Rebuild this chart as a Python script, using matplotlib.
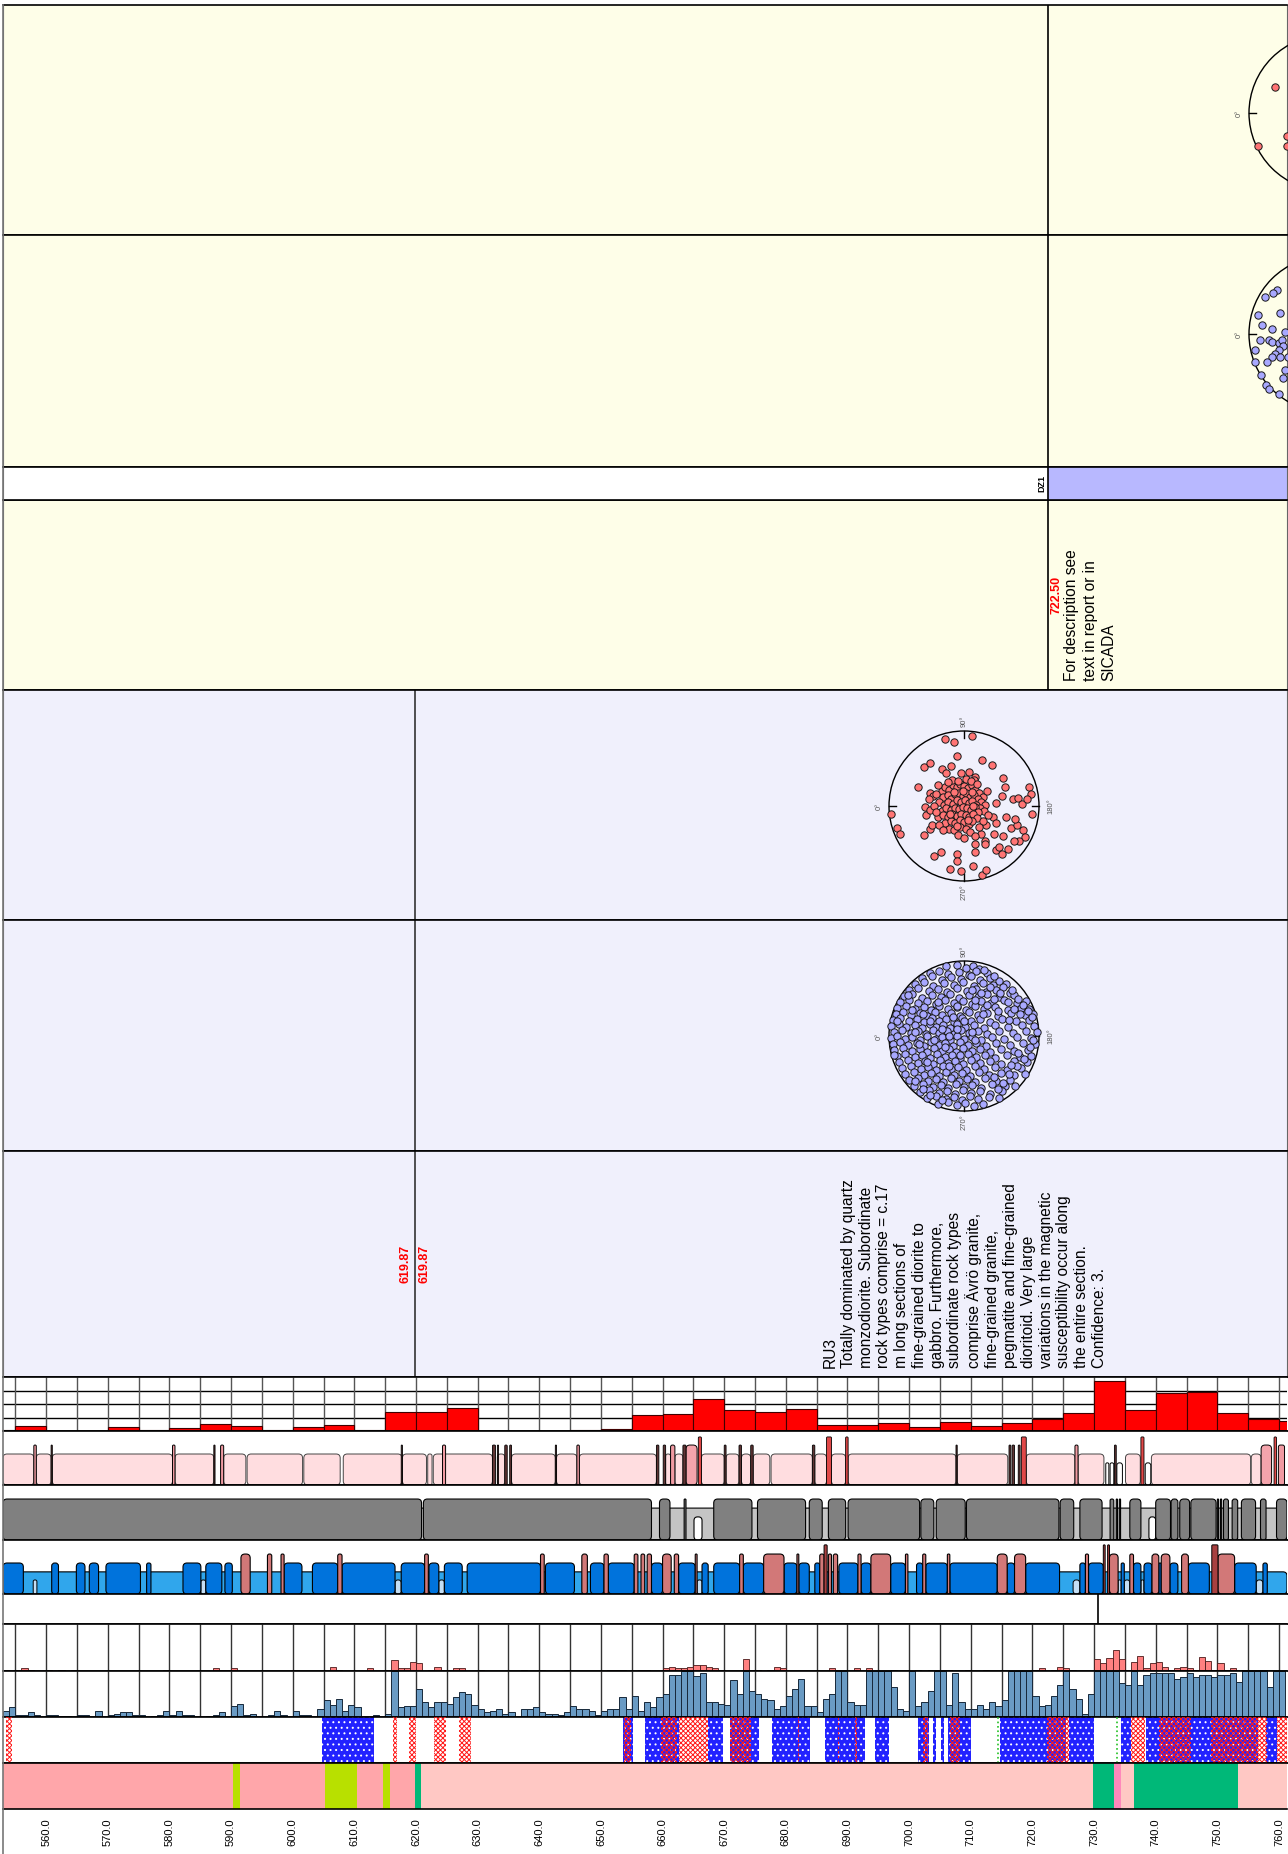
import matplotlib
matplotlib.use("Agg")
import numpy as np
import matplotlib.pyplot as plt
from matplotlib.patches import Circle, FancyBboxPatch

# --- fonts / hatch ---
plt.rcParams['font.family'] = ['Liberation Sans', 'DejaVu Sans']
plt.rcParams['hatch.linewidth'] = 0.7

# --- depth scale of the log ---
D_MIN, D_MAX = 553.0, 761.3
DEPTH_TICKS = list(range(560, 761, 10))

# --- red histogram (5 m bins) ---
RED_BINS = list(range(550, 761, 5))
RED_HIST = [0.3, 2.0, 0, 0, 1.4, 0.4, 1.0, 2.6, 1.7, 0.3, 1.4, 2.1, 0.4, 7.1, 6.9,
            8.6, 0, 0, 0, 0.4, 0.7, 5.9, 6.2, 11.7, 7.7, 6.9, 8.3, 2.1, 2.1, 2.9,
            1.4, 3.2, 1.7, 3.0, 4.3, 6.8, 18.4, 7.8, 14.0, 14.3, 6.8, 4.3, 3.7]

# --- 1 m histograms ---
M_BINS = list(range(553, 761))
BLUE_HIST = [
    1.7, 2.9, 0.6, 0.6, 1.4, 0.6, 0, 0.6, 0.6, 0.2,
    0.2, 0, 0.6, 0.6, 0, 1.9, 0, 0.6, 1.0, 1.4,
    1.4, 0.6, 0.6, 0, 0.2, 0.6, 1.9, 0.6, 1.7, 0.6,
    0.6, 0, 0, 0.2, 0.6, 1.4, 0, 3.3, 4.1, 0.6,
    1.0, 0, 0, 0.6, 1.9, 0.6, 0, 1.9, 0.6, 0.6,
    0, 2.4, 5.2, 3.7, 5.6, 1.9, 3.7, 2.9, 0, 0,
    0.6, 0, 1.0, 14, 2.9, 3.3, 3.3, 8.4, 4.7, 2.9,
    4.7, 4.7, 4.1, 6.1, 7.5, 6.9, 3.7, 2.4, 1.4, 1.9,
    2.4, 1.0, 1.4, 0, 2.4, 2.4, 2.9, 1.4, 1.0, 1.0,
    0.6, 1.4, 3.3, 2.4, 2.4, 1.9, 0.6, 1.9, 2.4, 2.4,
    6.1, 2.4, 6.5, 1.9, 4.7, 2.9, 6.1, 6.9, 12.9, 12.9,
    14, 14, 12.4, 13.4, 4.7, 4.7, 4.1, 3.7, 11.2, 6.9,
    14, 7.9, 6.9, 5.6, 5.2, 2.4, 3.3, 6.5, 8.4, 11.7,
    3.3, 3.3, 1.5, 5.6, 6.9, 14, 14, 4.7, 3.7, 3.7,
    14, 14, 14, 14, 9.0, 2.4, 1.9, 14, 3.3, 4.7,
    7.9, 14, 14, 3.7, 13.4, 4.7, 2.4, 2.4, 3.7, 2.4,
    4.7, 3.3, 5.2, 14, 14, 14, 14, 6.5, 3.3, 3.7,
    6.5, 9.7, 14, 8.4, 5.6, 1.0, 6.9, 14, 14, 14,
    14, 10.2, 9.7, 14, 9.7, 12.9, 13.4, 13.4, 13.4, 13.4,
    11.7, 12.2, 13.4, 12.2, 12.9, 12.7, 12.2, 12.7, 12.9, 13.4,
    10.7, 14, 14, 14, 14, 9.0, 14, 14]
PINK_HIST = [
    0.4, 0, 0.4, 0.8, 0.4, 0, 0, 0.4, 0, 0.4,
    0, 0.4, 0, 0, 0, 0, 0, 0, 0, 0,
    0, 0, 0, 0, 0, 0, 0.4, 0, 0, 0,
    0, 0, 0, 0, 0.8, 0.4, 0.4, 0.8, 0, 0,
    0, 0, 0, 0, 0, 0, 0, 0.4, 0, 0,
    0, 0, 0, 1.2, 0.4, 0, 0, 0, 0, 0.8,
    0, 0, 0.4, 3.2, 0.8, 0.8, 2.7, 2.2, 0, 0.4,
    1.2, 0.4, 0.4, 0.8, 0.8, 0, 0, 0.4, 0, 0,
    0, 0, 0, 0, 0.4, 0, 0, 0.4, 0, 0,
    0, 0.4, 0, 0, 0, 0, 0, 0, 0.4, 0.4,
    0.4, 0, 0, 0.4, 0.4, 0, 0, 0.8, 1.2, 0.8,
    0.8, 1.2, 1.8, 1.8, 1.2, 0.8, 0.4, 0, 0, 0,
    3.6, 0.4, 0.4, 0, 0.4, 1.2, 0.8, 0, 0, 0,
    0, 0, 0, 0, 0.8, 0.4, 0.4, 0, 0.8, 0,
    0.8, 0, 0, 0, 0.4, 0, 0, 0, 0.4, 0,
    0.4, 0.4, 0.4, 0.4, 0, 0, 0.4, 0, 0, 0.4,
    0, 0, 0, 0, 0, 0, 0, 0.4, 0.8, 0,
    0.4, 1.2, 1.0, 0.4, 0, 0, 0, 3.6, 2.2, 3.8,
    6.0, 3.6, 0.4, 2.6, 4.4, 0.8, 2.2, 2.6, 1.2, 0.4,
    0.8, 1.2, 0.8, 0.4, 4.0, 3.0, 0.4, 2.2, 0.4, 0.8,
    0, 0.4, 0.4, 0.4, 0.4, 0, 0, 0]

# --- pink band track ---
PINK_SEGS = [(553.0, 558.0), (558.4, 560.8), (561.0, 580.5), (580.9, 587.2), (588.8, 592.4),
             (592.6, 601.6), (601.8, 607.7), (608.2, 617.7), (617.8, 621.7), (621.9, 622.6),
             (622.8, 632.4), (633.2, 634.4), (635.5, 642.6), (642.8, 646.1), (646.5, 659.0),
             (660.5, 661.3), (662.0, 663.3), (666.3, 670.0), (670.3, 672.4), (672.8, 674.3),
             (674.7, 677.4), (677.6, 684.3), (684.7, 686.6), (687.4, 689.7), (690.1, 707.6),
             (707.8, 716.0), (719.0, 726.9), (727.4, 731.6), (735.1, 737.5), (739.3, 755.4),
             (755.5, 757.1)]
PINK_SPIKES = [(558.0, 558.4), (580.5, 580.9), (588.3, 588.8), (624.3, 624.8), (646.1, 646.5),
               (661.3, 662.0), (726.9, 727.4), (759.9, 760.9)]
PINK_DARK = [(560.8, 561.0), (587.2, 587.4), (617.6, 617.8), (632.4, 632.9), (633.2, 633.4),
             (634.4, 634.8), (635.2, 635.5), (642.6, 642.8), (659.0, 659.4), (660.1, 660.5),
             (663.3, 663.8), (670.0, 670.3), (672.4, 672.8), (674.3, 674.7), (684.3, 684.7),
             (707.6, 707.8), (716.2, 716.5), (716.7, 717.1), (717.7, 718.0), (733.3, 733.6)]
PINK_BROAD = [(663.8, 665.6), (757.1, 758.8)]
PINK_TALL = [(665.8, 666.3), (686.6, 687.4), (689.7, 690.1), (718.2, 719.0), (737.6, 738.1),
             (759.2, 759.6)]
PINK_WHITE = [(731.9, 732.4), (732.6, 733.2), (733.7, 734.6), (738.3, 739.2)]

# --- gray track ---
GRAY_DARK = [(553.0, 620.9), (621.2, 658.2), (659.5, 661.2), (663.5, 663.8), (668.3, 674.5),
             (675.4, 683.2), (683.8, 685.9), (686.9, 689.7), (690.1, 701.7), (701.9, 704.0),
             (704.4, 709.1), (709.3, 724.3), (724.5, 726.7), (727.7, 731.3), (732.6, 733.2),
             (733.6, 733.8), (734.1, 734.3), (735.8, 737.6), (740.0, 742.4), (742.5, 743.6),
             (743.9, 745.5), (745.7, 749.8), (750.0, 750.2), (750.5, 750.7), (751.0, 751.8),
             (752.4, 753.3), (753.9, 756.2), (757.0, 757.9), (759.6, 761.3)]
GRAY_WHITE = [(665.1, 666.4), (738.9, 740.0)]

# --- blue track ---
BLUE_DARK = [(553.0, 556.3), (560.9, 562.0), (564.9, 566.3), (567.0, 568.5), (569.7, 575.3),
             (576.3, 577.0), (582.2, 585.1), (585.9, 588.5), (589.0, 590.2), (598.6, 601.5),
             (603.2, 607.3), (608.0, 616.6), (617.6, 621.4), (622.1, 623.7), (624.6, 627.5),
             (628.3, 640.2), (641.0, 645.7), (648.3, 650.5), (651.2, 655.4), (658.2, 660.0),
             (662.6, 665.3), (666.4, 667.4), (668.3, 672.5), (673.1, 676.4), (679.7, 681.8),
             (682.1, 683.8), (684.7, 685.5), (688.6, 691.7), (692.2, 693.8), (697.0, 699.4),
             (701.2, 702.2), (702.7, 706.2), (706.6, 714.3), (715.9, 717.1), (718.9, 724.4),
             (727.7, 728.6), (729.1, 731.5), (734.4, 734.9), (736.4, 737.6), (738.1, 739.4),
             (740.5, 740.9), (742.3, 743.6), (745.3, 748.7), (752.8, 756.3), (757.4, 758.1)]
BLUE_PALE = [(557.9, 558.5), (585.1, 585.9), (616.6, 617.6), (623.7, 624.6), (665.6, 666.4),
             (726.6, 727.7), (733.9, 734.4), (734.9, 735.8), (737.6, 738.1), (756.3, 757.4)]
BLUE_ROSE = [(591.6, 593.1), (595.9, 596.6), (598.1, 598.6), (607.3, 608.0), (621.4, 622.0),
             (640.2, 640.8), (646.9, 647.8), (650.5, 651.2), (655.4, 656.0), (656.5, 657.1),
             (657.5, 658.2), (660.0, 661.4), (661.9, 662.6), (665.3, 665.6), (672.5, 673.1),
             (676.4, 679.7), (681.8, 682.1), (685.5, 686.2), (686.9, 687.4), (687.7, 688.4),
             (691.7, 692.2), (693.8, 697.0), (699.4, 699.8), (702.2, 702.7), (706.2, 706.6),
             (714.3, 715.9), (717.1, 718.9), (728.6, 729.1), (732.5, 733.9), (735.8, 736.4),
             (739.4, 740.5), (740.9, 742.3), (744.2, 745.3), (750.1, 752.8)]
BLUE_BROWN = [(686.2, 686.7), (731.5, 731.8), (732.2, 732.5), (749.1, 750.1)]

BOUNDARY_MARK = 730.7

# --- hatch track ---
HATCH_BLUE = [(604.7, 613.2), (653.6, 655.2), (657.2, 662.7), (667.3, 669.8), (670.9, 675.6),
              (677.8, 683.9), (686.3, 692.8), (694.5, 696.7), (701.4, 703.3), (703.9, 704.4),
              (705.1, 705.7), (706.3, 710.0), (714.7, 725.5), (726.0, 730.0), (734.4, 736.0),
              (738.5, 756.6), (757.9, 759.6)]
HATCH_RED = [(553.5, 554.4), (616.3, 616.9), (618.8, 620.0), (622.9, 624.8), (626.9, 628.9),
             (653.8, 654.8), (659.7, 662.4), (662.7, 667.3), (671.0, 674.3), (681.9, 682.2),
             (688.4, 688.7), (691.2, 691.5), (702.2, 703.1), (706.6, 708.2), (722.3, 726.0),
             (736.0, 738.2), (740.6, 745.8), (749.0, 758.0), (759.6, 761.3)]
HATCH_GREEN = [714.4, 733.8]

# --- rock type track ---
ROCK = [(553.0, 590.3, '#ffa6aa'), (590.3, 591.5, '#b8e000'), (591.5, 605.3, '#ffa6aa'),
        (605.3, 610.4, '#b8e000'), (610.4, 614.6, '#ffa6aa'), (614.6, 615.8, '#b8e000'),
        (615.8, 619.8, '#ffa6aa'), (619.8, 620.8, '#00b878'), (620.8, 729.9, '#ffc8c4'),
        (729.9, 733.3, '#00b878'), (733.3, 734.3, '#ff88bb'), (734.3, 736.4, '#ffc8c4'),
        (736.4, 753.4, '#00b878'), (753.4, 761.3, '#ffc8c4')]

# --- units ---
RU_BOUNDARY = 619.87
DZ_BOUNDARY = 722.50
RU_TEXT = ("RU3\nTotally dominated by quartz\nmonzodiorite. Subordinate\nrock types comprise = c.17\n"
           "m long sections of\nfine-grained diorite to\ngabbro. Furthermore,\nsubordinate rock types\n"
           "comprise Ävrö granite,\nfine-grained granite,\npegmatite and fine-grained\ndioritoid. Very large\n"
           "variations in the magnetic\nsusceptibility occur along\nthe entire section.\nConfidence: 3.")
DZ_TEXT = "For description see\ntext in report or in\nSICADA"

# --- stereonet poles (projected, unit circle) ---
RU_RED = [(-0.26, 0.90), (-0.14, 0.85), (0.10, 0.94), (-0.09, 0.67), (0.24, 0.61), (0.37, 0.55),
          (-0.53, 0.52), (-0.46, 0.57), (-0.18, 0.53), (-0.30, 0.50), (-0.24, 0.44), (-0.04, 0.44),
          (0.07, 0.45), (0.14, 0.39), (0.13, 0.35), (0.52, 0.38), (0.54, 0.26), (-0.62, 0.26),
          (-0.45, 0.17), (-0.41, 0.14), (-0.47, 0.10), (-0.52, -0.01), (-0.51, -0.12), (-0.45, -0.05),
          (-0.98, -0.11), (-0.90, -0.29), (-0.86, -0.37), (-0.53, -0.39), (-0.45, -0.30), (-0.43, -0.25),
          (-0.40, -0.67), (-0.31, -0.61), (-0.10, -0.64), (-0.09, -0.73), (-0.19, -0.84), (-0.04, -0.86),
          (0.12, -0.80), (0.24, -0.92), (0.29, -0.85), (0.14, -0.51), (0.15, -0.61), (0.28, -0.47),
          (0.28, -0.51), (0.23, -0.37), (0.40, -0.37), (0.52, -0.40), (0.62, -0.29), (0.70, -0.25),
          (0.78, -0.32), (0.81, -0.41), (0.73, -0.47), (0.67, -0.47), (0.43, -0.59), (0.47, -0.54),
          (0.51, -0.64), (0.58, -0.57), (0.68, -0.17), (0.56, -0.15), (0.65, 0.10), (0.72, 0.11),
          (0.77, 0.03), (0.86, 0.25), (0.89, 0.16), (0.84, 0.09), (0.90, -0.10), (0.50, 0.13),
          (0.43, 0.04), (0.38, -0.14), (0.43, -0.23), (0.29, -0.25),
          (-0.30, 0.20), (-0.25, 0.25), (-0.20, 0.22), (-0.15, 0.28), (-0.10, 0.25), (-0.05, 0.30),
          (0.00, 0.27), (0.05, 0.24), (0.10, 0.28), (0.15, 0.22), (0.20, 0.18), (0.25, 0.12),
          (-0.28, 0.12), (-0.22, 0.15), (-0.17, 0.10), (-0.12, 0.16), (-0.07, 0.18), (-0.02, 0.14),
          (0.03, 0.17), (0.08, 0.12), (0.13, 0.15), (0.18, 0.10), (0.23, 0.05), (0.28, 0.02),
          (-0.33, 0.05), (-0.27, 0.02), (-0.21, 0.06), (-0.15, 0.03), (-0.10, 0.08), (-0.04, 0.05),
          (0.01, 0.08), (0.06, 0.04), (0.11, 0.07), (0.16, 0.02), (0.21, -0.02), (0.26, -0.06),
          (-0.30, -0.06), (-0.24, -0.03), (-0.18, -0.05), (-0.12, -0.02), (-0.07, -0.04), (-0.01, -0.01),
          (0.04, -0.03), (0.09, -0.05), (0.14, -0.01), (0.19, -0.08), (-0.35, -0.15), (-0.28, -0.12),
          (-0.22, -0.14), (-0.16, -0.11), (-0.10, -0.13), (-0.04, -0.10), (0.02, -0.12), (0.07, -0.14),
          (0.12, -0.10), (0.17, -0.16), (-0.25, -0.22), (-0.18, -0.20), (-0.12, -0.23), (-0.06, -0.19),
          (0.00, -0.21), (0.06, -0.24), (0.11, -0.20), (-0.20, -0.30), (-0.13, -0.32), (-0.06, -0.28),
          (0.02, -0.31), (0.08, -0.34), (-0.08, -0.38), (0.00, -0.42), (-0.16, 0.35), (-0.08, 0.34),
          (0.02, 0.36), (0.09, 0.33), (-0.22, 0.32), (0.17, 0.30), (-0.35, 0.28), (-0.38, 0.16),
          (-0.40, 0.00), (-0.38, -0.08), (-0.33, -0.25), (-0.28, -0.32), (0.30, 0.20), (0.32, -0.12),
          (0.25, -0.20), (0.20, -0.28), (0.15, -0.40), (-0.02, 0.20), (-0.14, 0.19), (0.10, 0.19),
          (0.12, 0.00), (-0.19, -0.10), (0.05, -0.18), (-0.09, -0.26)]

RU_BLUE = [(-0.24, 0.93), (-0.10, 0.95), (0.03, 0.91), (0.12, 0.94), (0.20, 0.90),
           (-0.46, 0.84), (-0.34, 0.87), (-0.21, 0.83), (-0.07, 0.86), (0.06, 0.82), (0.16, 0.87), (0.31, 0.84),
           (-0.56, 0.77), (-0.43, 0.80), (-0.29, 0.75), (-0.17, 0.79), (-0.04, 0.76), (0.09, 0.80), (0.21, 0.75),
           (0.34, 0.78), (0.46, 0.74),
           (-0.66, 0.69), (-0.53, 0.72), (-0.41, 0.67), (-0.27, 0.71), (-0.14, 0.68), (-0.01, 0.72), (0.13, 0.67),
           (0.25, 0.71), (0.39, 0.68), (0.56, 0.70),
           (-0.73, 0.61), (-0.61, 0.64), (-0.47, 0.60), (-0.35, 0.63), (-0.23, 0.59), (-0.09, 0.64), (0.04, 0.60),
           (0.16, 0.63), (0.29, 0.59), (0.43, 0.62), (0.61, 0.58),
           (-0.80, 0.53), (-0.69, 0.56), (-0.56, 0.51), (-0.43, 0.55), (-0.31, 0.52), (-0.19, 0.56), (-0.07, 0.51),
           (0.06, 0.55), (0.19, 0.52), (0.31, 0.56), (0.47, 0.52), (0.67, 0.55),
           (-0.85, 0.45), (-0.73, 0.48), (-0.61, 0.44), (-0.49, 0.47), (-0.37, 0.43), (-0.26, 0.48), (-0.13, 0.44),
           (-0.01, 0.47), (0.11, 0.43), (0.23, 0.47), (0.36, 0.44), (0.53, 0.48), (0.71, 0.44), (0.83, 0.47),
           (-0.89, 0.37), (-0.77, 0.40), (-0.65, 0.36), (-0.54, 0.39), (-0.44, 0.35), (-0.33, 0.40), (-0.21, 0.36),
           (-0.09, 0.39), (0.03, 0.35), (0.15, 0.40), (0.27, 0.36), (0.41, 0.39), (0.59, 0.35), (0.76, 0.38),
           (0.87, 0.36),
           (-0.91, 0.29), (-0.81, 0.32), (-0.71, 0.28), (-0.59, 0.31), (-0.49, 0.27), (-0.39, 0.32), (-0.29, 0.28),
           (-0.18, 0.31), (-0.06, 0.27), (0.07, 0.32), (0.19, 0.28), (0.31, 0.31), (0.45, 0.27), (0.63, 0.31),
           (0.81, 0.28), (0.92, 0.30),
           (-0.95, 0.21), (-0.85, 0.24), (-0.73, 0.20), (-0.63, 0.23), (-0.53, 0.19), (-0.43, 0.24), (-0.33, 0.20),
           (-0.24, 0.23), (-0.14, 0.19), (-0.03, 0.24), (0.09, 0.20), (0.21, 0.23), (0.35, 0.19), (0.51, 0.23),
           (0.69, 0.20), (0.86, 0.22),
           (-0.97, 0.13), (-0.87, 0.16), (-0.77, 0.12), (-0.66, 0.15), (-0.56, 0.11), (-0.46, 0.16), (-0.37, 0.12),
           (-0.28, 0.15), (-0.19, 0.11), (-0.09, 0.16), (0.01, 0.12), (0.13, 0.15), (0.26, 0.11), (0.41, 0.15),
           (0.59, 0.12), (0.77, 0.15), (0.93, 0.13),
           (-0.94, 0.05), (-0.83, 0.08), (-0.71, 0.04), (-0.61, 0.07), (-0.51, 0.03), (-0.42, 0.08), (-0.33, 0.04),
           (-0.23, 0.07), (-0.13, 0.03), (-0.04, 0.08), (0.07, 0.04), (0.18, 0.07), (0.31, 0.03), (0.46, 0.07),
           (0.65, 0.04), (0.83, 0.07), (0.97, 0.05),
           (-0.98, -0.03), (-0.89, 0.00), (-0.79, -0.04), (-0.69, -0.01), (-0.59, -0.05), (-0.49, 0.00),
           (-0.38, -0.04), (-0.29, -0.01), (-0.19, -0.05), (-0.10, 0.00), (0.00, -0.04), (0.11, -0.01),
           (0.23, -0.05), (0.37, -0.01), (0.53, -0.04), (0.71, -0.01), (0.89, -0.03),
           (-0.95, -0.11), (-0.85, -0.08), (-0.75, -0.12), (-0.63, -0.09), (-0.53, -0.13), (-0.44, -0.08),
           (-0.34, -0.12), (-0.25, -0.09), (-0.15, -0.13), (-0.05, -0.08), (0.05, -0.12), (0.16, -0.09),
           (0.29, -0.13), (0.43, -0.09), (0.61, -0.12), (0.79, -0.09), (0.94, -0.11),
           (-0.93, -0.19), (-0.81, -0.16), (-0.69, -0.20), (-0.59, -0.17), (-0.49, -0.21), (-0.40, -0.16),
           (-0.30, -0.20), (-0.20, -0.17), (-0.11, -0.21), (-0.01, -0.16), (0.10, -0.20), (0.21, -0.17),
           (0.34, -0.21), (0.49, -0.17), (0.67, -0.20), (0.85, -0.18),
           (-0.90, -0.27), (-0.79, -0.24), (-0.66, -0.28), (-0.56, -0.25), (-0.46, -0.29), (-0.36, -0.24),
           (-0.26, -0.28), (-0.16, -0.25), (-0.06, -0.29), (0.05, -0.24), (0.16, -0.28), (0.28, -0.25),
           (0.41, -0.29), (0.57, -0.25), (0.75, -0.28), (0.89, -0.26),
           (-0.87, -0.35), (-0.75, -0.32), (-0.62, -0.36), (-0.52, -0.33), (-0.42, -0.37), (-0.32, -0.32),
           (-0.22, -0.36), (-0.12, -0.33), (-0.02, -0.37), (0.09, -0.32), (0.21, -0.36), (0.34, -0.33),
           (0.49, -0.37), (0.67, -0.33), (0.84, -0.35),
           (-0.83, -0.43), (-0.71, -0.40), (-0.58, -0.44), (-0.48, -0.41), (-0.38, -0.45), (-0.28, -0.40),
           (-0.18, -0.44), (-0.08, -0.41), (0.03, -0.45), (0.14, -0.40), (0.27, -0.44), (0.41, -0.41),
           (0.57, -0.45), (0.76, -0.42),
           (-0.79, -0.51), (-0.67, -0.48), (-0.54, -0.52), (-0.44, -0.49), (-0.34, -0.53), (-0.24, -0.48),
           (-0.13, -0.52), (-0.03, -0.49), (0.08, -0.53), (0.20, -0.48), (0.33, -0.52), (0.49, -0.49),
           (0.67, -0.52), (0.81, -0.50),
           (-0.73, -0.59), (-0.61, -0.56), (-0.48, -0.60), (-0.38, -0.57), (-0.28, -0.61), (-0.17, -0.56),
           (-0.07, -0.60), (0.04, -0.57), (0.15, -0.61), (0.28, -0.56), (0.43, -0.60), (0.61, -0.58),
           (-0.67, -0.67), (-0.55, -0.64), (-0.42, -0.68), (-0.31, -0.65), (-0.21, -0.69), (-0.11, -0.64),
           (0.00, -0.68), (0.11, -0.65), (0.23, -0.69), (0.37, -0.64), (0.55, -0.67), (0.68, -0.66),
           (-0.59, -0.75), (-0.47, -0.72), (-0.34, -0.76), (-0.23, -0.73), (-0.12, -0.77), (-0.02, -0.72),
           (0.09, -0.76), (0.21, -0.73), (0.35, -0.77), (0.51, -0.73),
           (-0.49, -0.83), (-0.37, -0.80), (-0.24, -0.84), (-0.13, -0.81), (-0.03, -0.85), (0.08, -0.80),
           (0.19, -0.84), (0.33, -0.81), (0.46, -0.83),
           (-0.35, -0.91), (-0.21, -0.88), (-0.09, -0.92), (0.01, -0.89), (0.13, -0.93), (0.25, -0.90),
           (-0.30, 0.10), (-0.20, 0.00), (-0.10, 0.10), (0.00, 0.20), (-0.40, -0.05), (-0.25, -0.15),
           (0.10, 0.05), (-0.15, 0.25), (-0.45, 0.20), (-0.35, 0.45), (-0.55, 0.30), (-0.60, -0.10),
           (-0.05, -0.25), (0.15, -0.05), (-0.50, -0.35), (-0.20, -0.40), (0.25, 0.30), (-0.65, 0.05),
           (-0.70, 0.35), (-0.10, 0.40),
           (0.27, 0.88), (0.40, 0.80), (0.52, 0.66), (0.64, 0.62), (0.72, 0.50), (0.78, 0.42),
           (0.85, 0.33), (0.90, 0.25), (0.35, 0.65), (0.22, 0.58), (0.10, 0.62), (0.48, 0.57),
           (0.58, 0.45), (0.66, 0.36), (0.74, 0.30), (0.60, 0.22), (0.45, 0.33), (0.30, 0.42),
           (0.40, 0.50), (0.15, 0.48), (0.70, -0.40), (0.60, -0.50), (0.52, -0.62), (0.45, -0.70),
           (0.40, -0.55), (0.62, -0.38), (0.72, -0.22), (0.80, -0.30), (0.88, -0.15), (0.92, -0.05),
           (-0.90, 0.20), (-0.93, -0.25), (-0.75, 0.55), (-0.65, -0.60), (-0.55, -0.70), (-0.45, -0.78),
           (-0.30, -0.85)]

DZ_RED = [(-0.67, 0.33), (-0.88, -0.42), (-0.51, -0.29), (-0.51, -0.42), (-0.30, 0.10), (-0.20, -0.30)]
DZ_BLUE = [(-0.64, 0.57), (-0.69, 0.53), (-0.79, 0.47), (-0.88, 0.25), (-0.60, 0.27), (-0.83, 0.12),
           (-0.70, 0.06), (-0.54, 0.02), (-0.86, -0.08), (-0.75, -0.08), (-0.70, -0.10), (-0.62, -0.12),
           (-0.58, -0.08), (-0.56, -0.16), (-0.62, -0.21), (-0.67, -0.25), (-0.71, -0.29), (-0.77, -0.36),
           (-0.60, -0.29), (-0.92, -0.20), (-0.92, -0.36), (-0.84, -0.53), (-0.78, -0.65), (-0.75, -0.71),
           (-0.62, -0.77), (-0.54, -0.46), (-0.56, -0.57), (-0.30, 0.10), (0.00, 0.00), (-0.40, -0.20),
           (-0.45, 0.05), (-0.50, -0.30)]

# --- colours ---
YELLOW = '#fefee8'
LAVENDER = '#f0f0fc'

W, H = 1288, 1854
XL, XR = 3, 1287
fig = plt.figure(figsize=(W / 100, H / 100), dpi=100)
fig.patch.set_facecolor('white')


def px_axes(x0, y0, x1, y1, z=1):
    return fig.add_axes([x0 / W, 1 - y1 / H, (x1 - x0) / W, (y1 - y0) / H], zorder=z)


def track(y0, y1, ylim=(0, 1), face='white', sides=False):
    ax = px_axes(XL, y0, XR, y1)
    ax.set_xlim(D_MIN, D_MAX)
    ax.set_ylim(*ylim)
    ax.set_facecolor(face)
    ax.set_xticks([])
    ax.set_yticks([])
    for s in ['left', 'right']:
        ax.spines[s].set_visible(sides)
        ax.spines[s].set_color('#666666')
    for s in ['top', 'bottom']:
        ax.spines[s].set_linewidth(1.2)
    return ax


def rbox(ax, a, b, top, color, px_y, bottom=0.0, ec='black', lw=0.8, z=2, r=4.0):
    # rounded box in depth / track units, r = corner radius in pixels
    px_x = 6.165
    rs = min(r / px_x, 0.45 * (b - a))
    box = FancyBboxPatch((a, bottom), b - a, top - bottom,
                         boxstyle=f"round,pad=0,rounding_size={rs}",
                         mutation_aspect=px_x / px_y,
                         fc=color, ec=ec, lw=lw, zorder=z)
    ax.add_patch(box)


def txt(x, y, s, **kw):
    fig.text(x / W, 1 - y / H, s, **kw)


# ---------------- upper panels: deformation zones ----------------
for y0, y1 in [(5, 235), (235, 467), (500, 690)]:
    ax = track(y0, y1, face=YELLOW, sides=True)
    ax.axvline(DZ_BOUNDARY, color='black', lw=1.2)

ax_dz = track(467, 500, sides=True)
ax_dz.axvspan(DZ_BOUNDARY, D_MAX, color='#b8b8ff', lw=0)
ax_dz.axvline(DZ_BOUNDARY, color='black', lw=1.2)
txt(1042, 483, 'DZ1', rotation=90, ha='center', va='center', fontsize=6.5, fontweight='bold')

txt(1057, 595, '722.50', rotation=90, ha='center', va='center', fontsize=9,
    fontweight='bold', color='red')
txt(1064, 681, DZ_TEXT, rotation=90, rotation_mode='anchor', ha='left', va='top',
    fontsize=11.2, linespacing=1.32)

# ---------------- rock unit panels ----------------
for y0, y1 in [(690, 920), (920, 1151), (1151, 1377)]:
    ax = track(y0, y1, face=LAVENDER, sides=True)
    ax.axvline(RU_BOUNDARY, color='#333333', lw=1.2)

txt(405, 1264, '619.87', rotation=90, ha='center', va='center', fontsize=9,
    fontweight='bold', color='red')
txt(425, 1264, '619.87', rotation=90, ha='center', va='center', fontsize=9,
    fontweight='bold', color='red')
txt(823, 1368, RU_TEXT, rotation=90, rotation_mode='anchor', ha='left', va='top',
    fontsize=11.2, linespacing=1.23)


def stereonet(cx, cy, r, pts, face):
    m = 24
    ax = px_axes(cx - r - m, cy - r - m, cx + r + m, cy + r + m, z=5)
    lim = 1 + m / r
    ax.set_xlim(-lim, lim)
    ax.set_ylim(-lim, lim)
    ax.set_axis_off()
    ax.add_patch(Circle((0, 0), 1, fill=False, ec='black', lw=1.0, zorder=2))
    t = 7 / r
    for dx, dy in [(-1, 0), (1, 0), (0, 1), (0, -1)]:
        ax.plot([dx, dx * (1 - t)], [dy, dy * (1 - t)], color='black', lw=1.0, zorder=2)
    g = 1 + 10 / r
    lab = dict(rotation=90, ha='center', va='center', fontsize=5.5, color='#555555')
    # only labels that land inside the picture
    for lx, ly, s in [(-g, 0, '0°'), (0, g, '90°'), (g + 0.02, 0, '180°'), (0, -g - 0.02, '270°')]:
        if cx + lx * r < W - 8:
            ax.text(lx, ly, s, **lab)
    xs, ys = zip(*pts)
    ax.scatter(xs, ys, s=28, c=face, edgecolors='#1a1a1a', linewidths=0.7, zorder=3)


stereonet(964, 806, 75, RU_RED, '#ff7474')
stereonet(964, 1036, 75, RU_BLUE, '#a8a8ff')
stereonet(1327, 113, 78, DZ_RED, '#ff7474')
stereonet(1327, 334, 78, DZ_BLUE, '#a8a8ff')

# ---------------- red histogram ----------------
ax = track(1377, 1431, ylim=(0, 20))
for yv in [5, 10, 15]:
    ax.axhline(yv, color='black', lw=1.0, zorder=1)
ax.vlines(np.arange(555, 761, 5), 0, 20, color='#555555', lw=1.0, zorder=1)
ax.bar(RED_BINS, RED_HIST, width=5, align='edge', color='#ff0000', edgecolor='#400000',
       lw=0.8, zorder=2)

# ---------------- pink band ----------------
ax = track(1431, 1485)
PY = 54.0
for a, b in PINK_SEGS:
    rbox(ax, a, b, 0.574, '#ffdde0', PY, ec='#444444', lw=0.7)
for a, b in PINK_WHITE:
    rbox(ax, a, b, 0.41, 'white', PY, lw=0.7, z=3)
for a, b in PINK_BROAD:
    rbox(ax, a, b, 0.74, '#f4a4ac', PY, lw=0.7, z=3)
for a, b in PINK_SPIKES:
    rbox(ax, a, b, 0.74, '#f09aa2', PY, lw=0.7, z=4, r=2)
for a, b in PINK_DARK:
    rbox(ax, a, b, 0.74, '#603434', PY, lw=0.6, z=4, r=1)
for a, b in PINK_TALL:
    rbox(ax, a, b, 0.89, '#e04848', PY, lw=0.6, z=4, r=1)

# ---------------- gray band ----------------
ax = track(1485, 1540)
PY = 55.0
rbox(ax, D_MIN, D_MAX, 0.58, '#c4c4c4', PY, lw=0.8)
for a, b in GRAY_WHITE:
    rbox(ax, a, b, 0.42, 'white', PY, lw=0.8, z=3)
for a, b in GRAY_DARK:
    rbox(ax, a, b, 0.745, '#808080', PY, lw=0.8, z=3)

# ---------------- blue band ----------------
ax = track(1540, 1594)
PY = 54.0
rbox(ax, D_MIN, D_MAX, 0.41, '#30a6ec', PY, lw=0.8)
for a, b in BLUE_PALE:
    rbox(ax, a, b, 0.26, '#c4def4', PY, lw=0.7, z=3)
for a, b in BLUE_DARK:
    rbox(ax, a, b, 0.574, '#0073dc', PY, lw=0.8, z=3)
for a, b in BLUE_ROSE:
    rbox(ax, a, b, 0.74, '#d27878', PY, lw=0.8, z=4)
for a, b in BLUE_BROWN:
    rbox(ax, a, b, 0.91, '#a84040', PY, lw=0.7, z=5, r=1)

# ---------------- boundary marker ----------------
ax = track(1594, 1624)
ax.axvline(BOUNDARY_MARK, color='black', lw=1.2)

# ---------------- 1 m histograms ----------------
ax = track(1624, 1671, ylim=(0, 13.7))
ax.vlines(np.arange(555, 761, 5), 0, 13.7, color='#333333', lw=1.0, zorder=1)
ax.bar(M_BINS, PINK_HIST, width=1, align='edge', color='#ff8080', edgecolor='#4a1a1a',
       lw=0.6, zorder=2)

ax = track(1671, 1717, ylim=(0, 14))
ax.vlines(np.arange(555, 761, 5), 0, 14, color='#333333', lw=1.0, zorder=1)
ax.bar(M_BINS, BLUE_HIST, width=1, align='edge', color='#6a9bc4', edgecolor='#17283a',
       lw=0.7, zorder=2)

# ---------------- hatch band ----------------
ax = track(1717, 1763)
for a, b in HATCH_BLUE:
    ax.axvspan(a, b, facecolor='#2222ff', edgecolor='white', hatch='...', lw=0, zorder=2)
for a, b in HATCH_RED:
    ax.axvspan(a, b, facecolor='none', edgecolor='#ff1a1a', hatch='x' * 7, lw=0, zorder=3)
for d in HATCH_GREEN:
    ax.axvline(d, color='#20c020', lw=1.2, ls=':', zorder=4)

# ---------------- rock type band + depth axis ----------------
ax = track(1763, 1809)
for a, b, c in ROCK:
    ax.axvspan(a, b, color=c, lw=0)
ax.set_xticks(DEPTH_TICKS)
ax.set_xticklabels([f'{d:.1f}' for d in DEPTH_TICKS])
ax.tick_params(axis='x', length=0, pad=7, labelsize=8, labelrotation=90)

# left border of the whole log
fig.add_artist(plt.Line2D([XL / W, XL / W], [0, 1 - 5 / H], color='#777777', lw=1.2))

fig.savefig('out.png', dpi=100)
